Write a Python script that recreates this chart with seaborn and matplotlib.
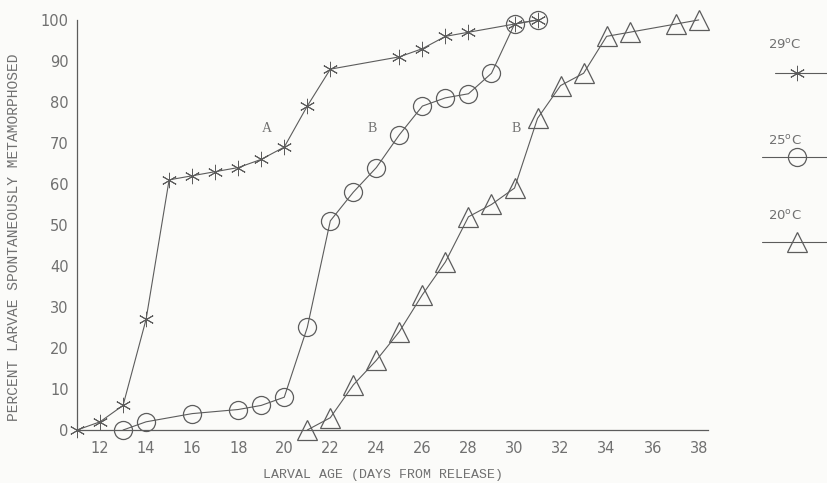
# Percent of larvae spontaneously metamorphosed vs larval age, at three temperatures.

import matplotlib
matplotlib.use("Agg")
import matplotlib.pyplot as plt
from matplotlib.lines import Line2D
import pandas as pd
import seaborn as sns

days_29 = [11, 12, 13, 14, 15, 16, 17, 18, 19, 20, 21, 22, 25, 26, 27, 28, 30, 31]
pct_29 = [0, 2, 6, 27, 61, 62, 63, 64, 66, 69, 79, 88, 91, 93, 96, 97, 99, 100]

days_25 = [13, 14, 16, 18, 19, 20, 21, 22, 23, 24, 25, 26, 27, 28, 29, 30, 31]
pct_25 = [0, 2, 4, 5, 6, 8, 25, 51, 58, 64, 72, 79, 81, 82, 87, 99, 100]

days_20 = [21, 22, 23, 24, 25, 26, 27, 28, 29, 30, 31, 32, 33, 34, 35, 37, 38]
pct_20 = [0, 3, 11, 17, 24, 33, 41, 52, 55, 59, 76, 84, 87, 96, 97, 99, 100]

labels = ["29$^{\\mathrm{o}}$C", "25$^{\\mathrm{o}}$C", "20$^{\\mathrm{o}}$C"]
curve_notes = [("A", 19.25, 73.5), ("B", 23.8, 73.5), ("B", 30.05, 73.5)]

sns.set_style("white")
plt.rcParams["font.family"] = ["DejaVu Sans"]

LINE = "#5c5c5c"
TEXT = "#707070"
BG = "#fbfbf9"

fig = plt.figure(figsize=(8.28, 4.83), dpi=100, facecolor=BG)
ax = fig.add_axes([0.093, 0.1097, 0.762, 0.849])
ax.set_facecolor(BG)

styles = [
    dict(marker=(6, 2, 0), markersize=11, markeredgewidth=0.7),
    dict(marker="o", markersize=13, markeredgewidth=0.9, markerfacecolor="none"),
    dict(marker="^", markersize=15, markeredgewidth=0.9, markerfacecolor="none"),
]
series = [(days_29, pct_29), (days_25, pct_25), (days_20, pct_20)]
for (d, p), st in zip(series, styles):
    df = pd.DataFrame({"day": d, "pct": p})
    sns.lineplot(data=df, x="day", y="pct", ax=ax, color=LINE, linewidth=0.8,
                 markeredgecolor=LINE, estimator=None, clip_on=False, **st)

for txt, x, y in curve_notes:
    ax.text(x, y, txt, family="Liberation Serif", fontsize=10, color=TEXT,
            ha="center", va="center")

ax.set_xlim(11, 38.4)
ax.set_ylim(0, 100)
ax.set_xticks(range(12, 39, 2))
ax.set_xticks(range(11, 39, 1), minor=True)
ax.set_yticks(range(0, 101, 10))
ax.set_yticks(range(5, 100, 10), minor=True)
for s in ["top", "right"]:
    ax.spines[s].set_visible(False)
for s in ["left", "bottom"]:
    ax.spines[s].set_color(LINE)
    ax.spines[s].set_linewidth(0.9)
ax.tick_params(axis="both", which="major", direction="in", length=7, width=0.8,
               color=LINE, labelcolor=TEXT, labelsize=10.5)
ax.tick_params(axis="both", which="minor", direction="in", length=4, width=0.8, color=LINE)
ax.tick_params(axis="x", pad=8)
ax.tick_params(axis="y", pad=6)
ax.set_xlabel("LARVAL AGE (DAYS FROM RELEASE)", family="Liberation Mono", fontsize=9.5,
              color=TEXT)
ax.xaxis.set_label_coords(0.485, -0.096)
ax.set_ylabel("PERCENT LARVAE SPONTANEOUSLY METAMORPHOSED", family="Liberation Mono",
              fontsize=10.5, color=TEXT)
ax.yaxis.set_label_coords(-0.088, 0.47)

# legend drawn by hand at the right edge
leg_rows = [(45, 73, 775), (141, 157, 762), (216, 242, 762)]
for (ty, ly, x0), lab, st in zip(leg_rows, labels, styles):
    fig.text(785 / 828, 1 - ty / 483, lab, fontsize=9.5, color=TEXT, ha="center", va="center")
    fig.add_artist(Line2D([x0 / 828, 1.0], [1 - ly / 483] * 2, transform=fig.transFigure,
                          color=LINE, linewidth=0.8))
    fig.add_artist(Line2D([797 / 828], [1 - ly / 483], transform=fig.transFigure,
                          color=LINE, markeredgecolor=LINE, linestyle="none", **st))

fig.savefig("out.png", dpi=100, facecolor=BG)
